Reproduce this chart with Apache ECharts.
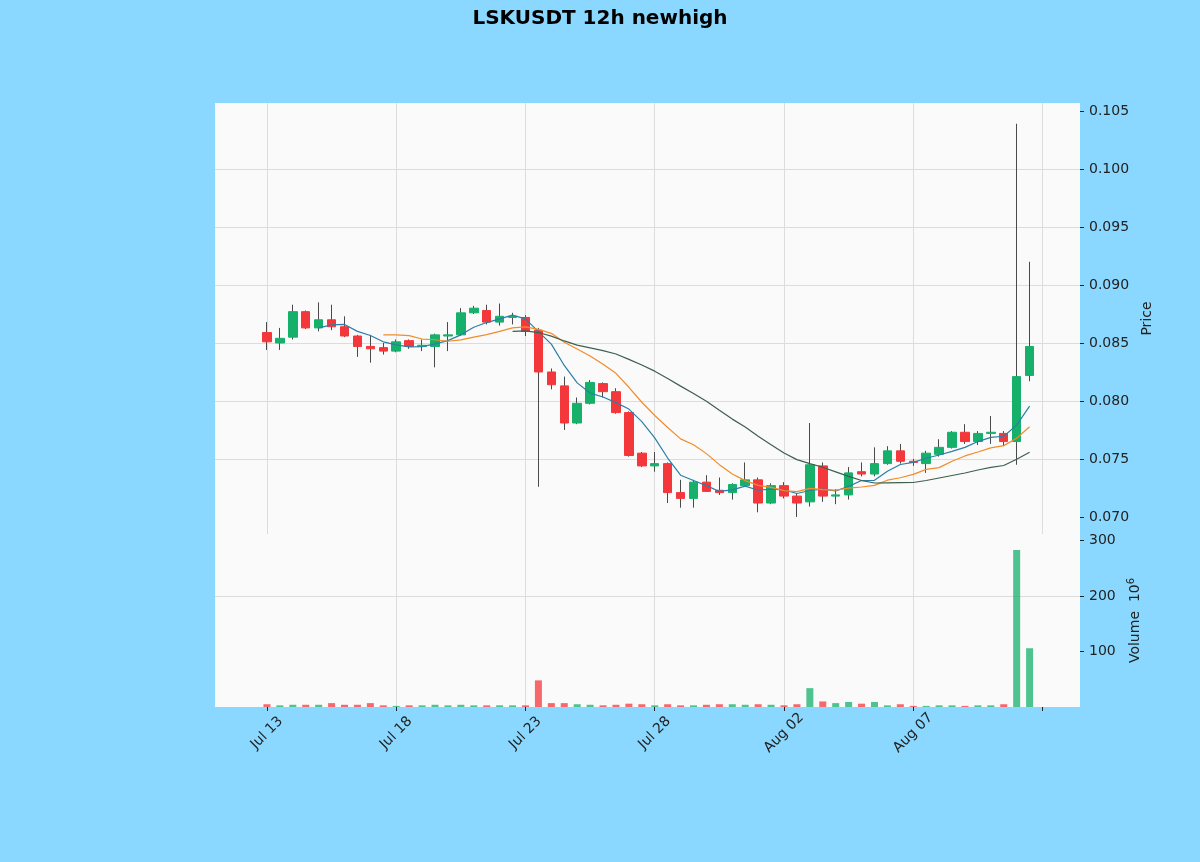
<!DOCTYPE html>
<html>
<head>
<meta charset="utf-8">
<title>LSKUSDT 12h newhigh</title>
<script src="https://cdn.jsdelivr.net/npm/echarts@6/dist/echarts.min.js"></script>
<style>
html, body { margin: 0; padding: 0; background: #8ad8ff; }
#main { width: 1200px; height: 862px; }
</style>
</head>
<body>
<div id="main"></div>
<script>
// 12h bars from Jul 13 00:00 to Aug 11 12:00, x = bar index
var opens = [0.0859,0.0850,0.0855,0.0877,0.0863,0.0870,0.0864,0.0856,0.0847,0.0846,
    0.0843,0.0852,0.0847,0.0847,0.0856,0.0857,0.0876,0.0878,0.0868,0.0872,
    0.0872,0.0861,0.0825,0.0813,0.0781,0.0798,0.0815,0.0808,0.0790,0.0755,
    0.0744,0.0746,0.0721,0.0716,0.0730,0.0723,0.0721,0.0727,0.0732,0.0712,
    0.0727,0.0718,0.0713,0.0744,0.0718,0.0719,0.0739,0.0737,0.0746,0.0757,
    0.0748,0.0746,0.0754,0.0760,0.0773,0.0765,0.0772,0.0772,0.0765,0.0822];
var closes = [0.0851,0.0854,0.0877,0.0863,0.0870,0.0864,0.0856,0.0847,0.0845,0.0843,
    0.0851,0.0847,0.0848,0.0857,0.0857,0.0876,0.0880,0.0868,0.0873,0.0873,
    0.0860,0.0825,0.0814,0.0781,0.0798,0.0816,0.0808,0.0790,0.0753,0.0744,
    0.0746,0.0721,0.0716,0.0730,0.0722,0.0721,0.0728,0.0732,0.0712,0.0727,
    0.0718,0.0712,0.0745,0.0718,0.0719,0.0738,0.0737,0.0746,0.0757,0.0748,
    0.0747,0.0755,0.0760,0.0773,0.0765,0.0772,0.0773,0.0765,0.0821,0.0847];
var lows = [0.0844,0.0844,0.0853,0.0862,0.0860,0.0861,0.0855,0.0838,0.0833,0.0840,
    0.0842,0.0845,0.0843,0.0829,0.0843,0.0856,0.0875,0.0866,0.0865,0.0866,
    0.0856,0.0726,0.0810,0.0775,0.0780,0.0797,0.0803,0.0789,0.0752,0.0743,
    0.0739,0.0712,0.0708,0.0708,0.0722,0.0719,0.0715,0.0726,0.0704,0.0711,
    0.0716,0.0700,0.0709,0.0713,0.0711,0.0715,0.0735,0.0735,0.0745,0.0746,
    0.0744,0.0738,0.0752,0.0759,0.0763,0.0762,0.0763,0.0761,0.0745,0.0817];
var highs = [0.0868,0.0863,0.0883,0.0878,0.0885,0.0883,0.0873,0.0857,0.0857,0.0850,
    0.0853,0.0853,0.0853,0.0858,0.0868,0.0880,0.0882,0.0883,0.0884,0.0876,
    0.0874,0.0863,0.0828,0.0821,0.0803,0.0818,0.0816,0.0811,0.0791,0.0756,
    0.0756,0.0747,0.0732,0.0732,0.0736,0.0734,0.0729,0.0747,0.0734,0.0729,
    0.0730,0.0720,0.0781,0.0747,0.0724,0.0743,0.0747,0.0760,0.0761,0.0763,
    0.0750,0.0757,0.0767,0.0774,0.0780,0.0774,0.0787,0.0774,0.1039,0.0920];
// volume in 10^6
var volumes = [5,3,4,4,4,7,4,4,7,3,
    2,3,3,4,3,4,3,3,3,3,
    3,48,7,7,5,4,3,4,6,5,
    3,5,3,3,4,5,5,4,5,4,
    3,5,34,10,7,9,6,9,3,5,
    2,2,3,3,2,3,3,5,283,106];

var dateTicks = [0, 10, 20, 30, 40, 50, 60];
var dateLabels = ['Jul 13', 'Jul 18', 'Jul 23', 'Jul 28', 'Aug 02', 'Aug 07', ''];
var priceTicks = [0.070, 0.075, 0.080, 0.085, 0.090, 0.095, 0.100, 0.105];
var volumeTicks = [100, 200, 300];
var mavPeriods = [5, 10, 20];
var mavColors = ['#2a7fa8', '#f28c28', '#3f5f4f'];

var upColor = '#16b06b';
var downColor = '#f4373b';
var font = 'DejaVu Sans';

var wickData = [], bodyData = [], volData = [];
for (var i = 0; i < opens.length; i++) {
    wickData.push([i, opens[i], closes[i], lows[i], highs[i]]);
    bodyData.push([i, opens[i], closes[i], Math.min(opens[i], closes[i]), Math.max(opens[i], closes[i])]);
    volData.push({
        value: [i, volumes[i]],
        itemStyle: { color: closes[i] >= opens[i] ? 'rgba(22,176,107,0.75)' : 'rgba(244,55,59,0.75)' }
    });
}

function movingAverage(n) {
    var out = [];
    for (var i = n - 1; i < closes.length; i++) {
        var s = 0;
        for (var j = i - n + 1; j <= i; j++) s += closes[j];
        out.push([i, s / n]);
    }
    return out;
}

var myChart = echarts.init(document.getElementById('main'));

var gridLine = { show: true, showMinLine: false, showMaxLine: false, lineStyle: { color: '#dcdcdc', width: 1 } };
var xMin = -4.02, xMax = 62.9;

var series = [
    {
        name: 'wick', type: 'candlestick', xAxisIndex: 0, yAxisIndex: 0,
        encode: { x: 0, y: [1, 2, 3, 4] },
        barWidth: 1,
        itemStyle: { color: '#4a4a4a', color0: '#4a4a4a', borderColor: '#4a4a4a', borderColor0: '#4a4a4a', borderWidth: 1 },
        data: wickData, z: 2
    },
    {
        name: 'body', type: 'candlestick', xAxisIndex: 0, yAxisIndex: 0,
        encode: { x: 0, y: [1, 2, 3, 4] },
        barWidth: 9,
        itemStyle: { color: upColor, color0: downColor, borderColor: upColor, borderColor0: downColor, borderWidth: 1 },
        data: bodyData, z: 3
    },
    {
        name: 'volume', type: 'bar', xAxisIndex: 1, yAxisIndex: 1,
        barWidth: 7,
        data: volData
    }
];
mavPeriods.forEach(function (n, k) {
    series.push({
        name: 'MA' + n, type: 'line', xAxisIndex: 0, yAxisIndex: 0,
        showSymbol: false, symbol: 'none',
        lineStyle: { color: mavColors[k], width: 1.2 },
        data: movingAverage(n), z: 4
    });
});

var option = {
    backgroundColor: '#8ad8ff',
    animation: false,
    title: {
        text: 'LSKUSDT 12h newhigh',
        left: 'center', top: 4,
        textStyle: { fontFamily: font, fontSize: 20, fontWeight: 'bold', color: '#000' }
    },
    grid: [
        { left: 215, right: 120, top: 103, height: 431, show: true, backgroundColor: '#fafafa', borderWidth: 0 },
        { left: 215, right: 120, top: 534, height: 173, show: true, backgroundColor: '#fafafa', borderWidth: 0 }
    ],
    xAxis: [
        {
            type: 'value', gridIndex: 0, min: xMin, max: xMax, splitNumber: 6,
            axisLine: { show: false, onZero: false }, axisTick: { show: false }, axisLabel: { show: false },
            splitLine: gridLine
        },
        {
            type: 'value', gridIndex: 1, min: xMin, max: xMax, splitNumber: 6,
            axisLine: { show: false, onZero: false },
            axisTick: { show: true, customValues: dateTicks, length: 4, lineStyle: { color: '#222' } },
            axisLabel: {
                customValues: dateTicks,
                rotate: 45, align: 'center', verticalAlign: 'middle', margin: 26,
                fontFamily: font, fontSize: 14, color: '#222',
                formatter: function (v) {
                    var k = dateTicks.indexOf(Math.round(v));
                    return k >= 0 ? dateLabels[k] : '';
                }
            },
            splitLine: gridLine
        }
    ],
    yAxis: [
        {
            type: 'value', gridIndex: 0, position: 'right',
            min: 0.06853, max: 0.10569, splitNumber: 7,
            axisLine: { show: false, onZero: false },
            axisTick: { show: true, customValues: priceTicks, length: 4, lineStyle: { color: '#222' } },
            axisLabel: {
                customValues: priceTicks, margin: 9,
                fontFamily: font, fontSize: 14, color: '#222',
                formatter: function (v) { return v.toFixed(3); }
            },
            splitLine: gridLine,
            name: 'Price', nameLocation: 'middle', nameRotate: 90, nameGap: 53,
            nameTextStyle: { fontFamily: font, fontSize: 14, color: '#222' }
        },
        {
            type: 'value', gridIndex: 1, position: 'right',
            min: 0, max: 312, splitNumber: 3,
            axisLine: { show: false, onZero: false },
            axisTick: { show: true, customValues: volumeTicks, length: 4, lineStyle: { color: '#222' } },
            axisLabel: {
                customValues: volumeTicks, margin: 9,
                fontFamily: font, fontSize: 14, color: '#222'
            },
            splitLine: gridLine,
            name: 'Volume  10{sup|6}', nameLocation: 'middle', nameRotate: 90, nameGap: 41,
            nameTextStyle: {
                fontFamily: font, fontSize: 14, color: '#222',
                rich: { sup: { fontFamily: font, fontSize: 10, color: '#222', verticalAlign: 'top', padding: [0, 0, 8, 0] } }
            }
        }
    ],
    series: series
};

myChart.setOption(option);
</script>
</body>
</html>
